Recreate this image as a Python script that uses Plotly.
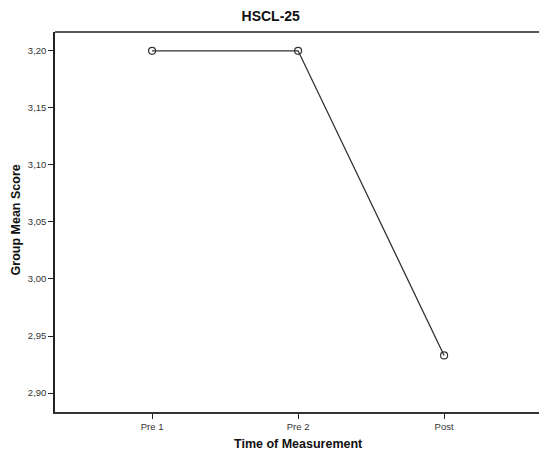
import plotly.graph_objects as go

categories = ["Pre 1", "Pre 2", "Post"]
values = [3.20, 3.20, 2.933]
y_ticks = [2.90, 2.95, 3.00, 3.05, 3.10, 3.15, 3.20]

x_pos = list(range(len(categories)))

W, H = 548, 457          # figure is slightly wider than the window so the plot frame runs off the right edge
L, T, B = 54.5, 31.5, 45.3
plot_w = W - L
plot_h = H - T - B

fig = go.Figure()
fig.add_trace(go.Scatter(
    x=x_pos, y=values, mode="lines+markers",
    line=dict(color="#333333", width=1.3),
    marker=dict(symbol="circle-open", size=7, color="#333333", line=dict(width=1.2)),
    showlegend=False, hoverinfo="skip",
))

font = "Arial, Liberation Sans, sans-serif"
fig.update_layout(
    width=W, height=H,
    margin=dict(l=L, r=0, t=T, b=B),
    paper_bgcolor="white", plot_bgcolor="white",
    separators=",.",
    title=dict(text="<b>HSCL-25</b>", x=270.7 / W, xanchor="center", y=1 - 16 / H, yanchor="middle",
               font=dict(family=font, size=14, color="#111111")),
    font=dict(family=font),
)
# top frame line of the plot area
fig.add_shape(type="line", xref="paper", yref="paper", x0=0, x1=1, y0=1, y1=1,
              line=dict(color="#222222", width=1.5))
# axis titles
fig.add_annotation(text="<b>Time of Measurement</b>", xref="paper", yref="paper",
                   x=(298.7 - L) / plot_w, y=-(444 - (H - B)) / plot_h,
                   xanchor="center", yanchor="middle", showarrow=False,
                   font=dict(family=font, size=12.5, color="#111111"))
fig.add_annotation(text="<b>Group Mean Score</b>", xref="paper", yref="paper",
                   x=(15 - L) / plot_w, y=((H - B) - 219.5) / plot_h, textangle=-90,
                   xanchor="center", yanchor="middle", showarrow=False,
                   font=dict(family=font, size=12.5, color="#111111"))

fig.update_xaxes(
    range=[-0.665, (plot_w - 97.2) / 146.15 - 0.0], tickvals=x_pos, ticktext=categories,
    showgrid=False, zeroline=False, automargin=False,
    showline=True, linecolor="#333333", linewidth=1.5, mirror=False,
    ticks="outside", ticklen=5, tickcolor="#222222", tickwidth=1,
    tickfont=dict(family=font, size=9.5, color="#333333"),
)
fig.update_yaxes(
    range=[2.8834, 3.2165], tickvals=y_ticks, tickformat=".2f",
    showgrid=False, zeroline=False, automargin=False,
    showline=True, linecolor="#222222", linewidth=1.5, mirror=False,
    ticks="outside", ticklen=5, tickcolor="#222222", tickwidth=1,
    tickfont=dict(family=font, size=9.5, color="#333333"),
)
fig.write_html("out.html", config={"displayModeBar": False})

with open("out.html", "r", encoding="utf-8") as f:
    html = f.read()
html = html.replace("<head>", "<head><style>html,body{margin:0;padding:0;overflow:hidden;}</style>", 1)
with open("out.html", "w", encoding="utf-8") as f:
    f.write(html)
